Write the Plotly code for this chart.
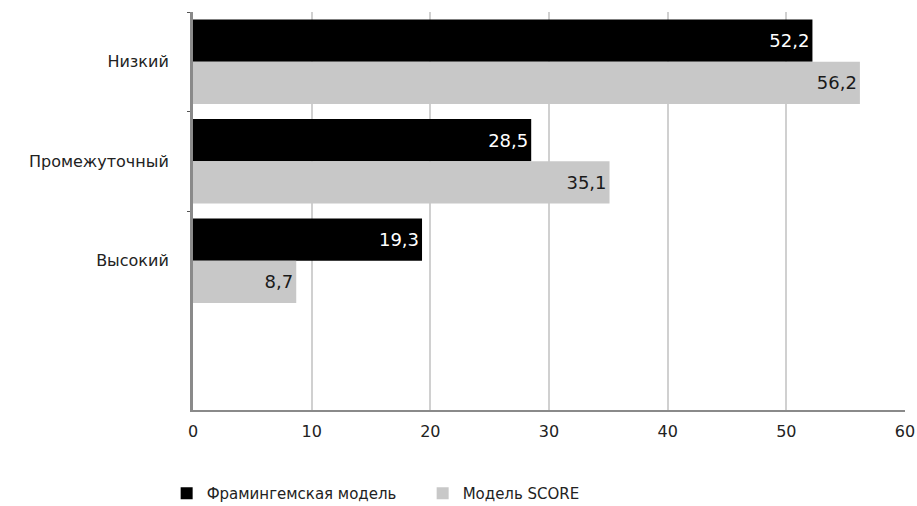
import plotly.graph_objects as go

categories = ["Низкий", "Промежуточный", "Высокий"]
framingham = [52.2, 28.5, 19.3]
score = [56.2, 35.1, 8.7]
series_names = ["Фрамингемская модель", "Модель SCORE"]
x_ticks = [0, 10, 20, 30, 40, 50, 60]

FONT = "DejaVu Sans, Liberation Sans, Arial, sans-serif"

fig = go.Figure()
fig.add_trace(go.Bar(
    y=categories, x=framingham, name=series_names[0], orientation="h",
    marker=dict(color="#000000", line=dict(width=0)),
    texttemplate="%{x:.1f}", textposition="inside", insidetextanchor="end",
    textfont=dict(color="#ffffff", size=18, family=FONT),
))
fig.add_trace(go.Bar(
    y=categories, x=score, name=series_names[1], orientation="h",
    marker=dict(color="#c8c8c8", line=dict(width=0)),
    texttemplate="%{x:.1f}", textposition="inside", insidetextanchor="end",
    textfont=dict(color="#1a1a1a", size=18, family=FONT),
))

fig.update_layout(
    width=917, height=506,
    margin=dict(l=193, r=12, t=12, b=96, autoexpand=False),
    paper_bgcolor="white", plot_bgcolor="white",
    barmode="group", bargap=0.15, bargroupgap=0.0,
    separators=", ",
    font=dict(family=FONT, size=16, color="#222222"),
    showlegend=True,
    legend=dict(
        orientation="h", x=-0.037, xanchor="left", y=-0.21, yanchor="middle",
        entrywidth=211, entrywidthmode="pixels",
        font=dict(size=15, color="#222222"), traceorder="normal",
    ),
    uniformtext=dict(mode=False),
)
fig.update_xaxes(
    range=[0, 60], tickvals=x_ticks, ticktext=[str(v) for v in x_ticks],
    showgrid=True, gridcolor="#d0d0d0", gridwidth=2,
    showline=True, linecolor="#8a8a8a", linewidth=2,
    ticks="", zeroline=False, tickfont=dict(size=16, color="#222222"),
    ticklabelstandoff=6, automargin=False,
)
fig.update_yaxes(
    type="category", range=[3.5, -0.5],
    showline=True, linecolor="#8a8a8a", linewidth=3,
    ticks="outside", tickson="boundaries", ticklen=3, tickcolor="#555555",
    showgrid=False, ticklabelstandoff=18,
    tickfont=dict(size=16, color="#222222"),
    automargin=False,
)

fig.write_html("out.html")
